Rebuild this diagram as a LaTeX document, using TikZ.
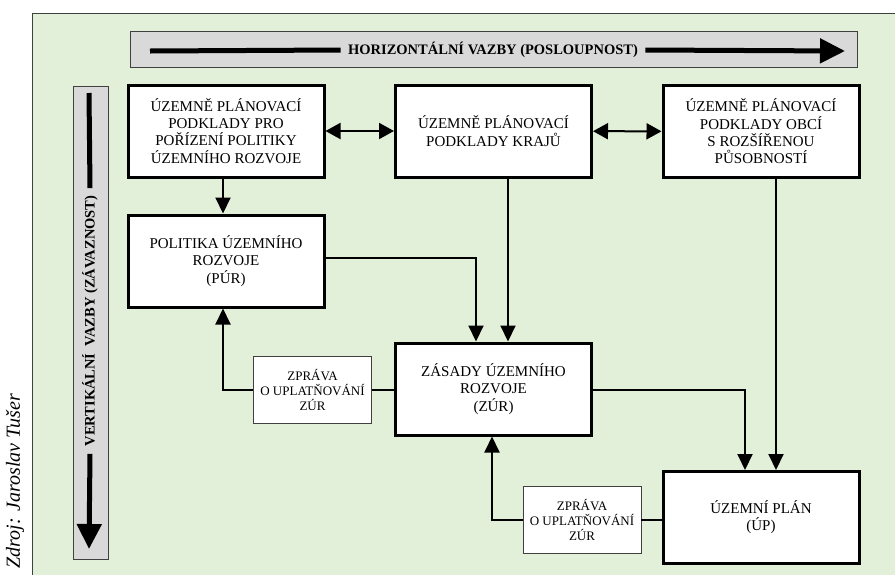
\documentclass[tikz,border=0pt]{standalone}
\usepackage{fontspec}
\setmainfont{Liberation Serif}
\usepackage{tikz}
\usetikzlibrary{arrows.meta,positioning,calc}
\definecolor{framegreen}{RGB}{226,239,217}
\definecolor{bargray}{RGB}{217,217,217}
\definecolor{edgegray}{RGB}{64,64,64}

\begin{document}
\begin{tikzpicture}[
    x=1pt, y=-1pt,
    mainbox/.style={rectangle, draw, line width=3pt, fill=white, align=center, minimum width=196pt, minimum height=92pt, font=\fontsize{15}{17.3}\selectfont},
    reportbox/.style={rectangle, draw=edgegray, line width=0.8pt, fill=white, align=center, minimum width=118pt, minimum height=67pt, font=\fontsize{13}{14.6}\selectfont},
    bar/.style={draw=edgegray, line width=0.8pt, fill=bargray},
    bartext/.style={font=\bfseries\fontsize{14.5}{17}\selectfont},
    bigarrow/.style={line width=5pt, -{Triangle[width=24pt,length=25pt]}},
    arrow/.style={line width=2pt, -{Triangle[width=15pt,length=16pt]}},
    biarrow/.style={line width=2pt, {Triangle[width=16pt,length=15pt]}-{Triangle[width=16pt,length=15pt]}},
    link/.style={line width=2pt}
]
\useasboundingbox (0,0) rectangle (895,574);

% background frame
\draw[fill=framegreen, draw=edgegray, line width=0.8pt] (32,13) rectangle (905,585);
\node[rotate=90, font=\itshape\fontsize{20}{22}\selectfont] (source) at (15,481) {Zdroj: Jaroslav Tušer};

% horizontal relations bar
\draw[bar] (130,31) rectangle (857,67);
\node[bartext] (htext) at (493,50) {HORIZONTÁLNÍ VAZBY (POSLOUPNOST)};
\coordinate (hstart) at (150,51);
\coordinate (hend) at (845,51);
\draw[line width=5pt] (hstart) -- ([xshift=-4pt]htext.west);
\draw[bigarrow] ([xshift=4pt]htext.east) -- (hend);

% vertical relations bar
\draw[bar] (73,86) rectangle (108,559);
\node[bartext, rotate=90] (vtext) at (90,321) {VERTIKÁLNÍ\ \ VAZBY (ZÁVAZNOST)};
\coordinate (vstart) at (89,93);
\coordinate (vend) at (89,549);
\draw[line width=5pt] (vstart) -- ([yshift=4pt]vtext.east);
\draw[bigarrow] ([yshift=-4pt]vtext.west) -- (vend);

% boxes
\node[mainbox] (upppur) at (226,131) {ÚZEMNĚ PLÁNOVACÍ\\PODKLADY PRO\\POŘÍZENÍ POLITIKY\\ÚZEMNÍHO ROZVOJE};
\node[mainbox] (uppkraj) at (493.5,131) {ÚZEMNĚ PLÁNOVACÍ\\PODKLADY KRAJŮ};
\node[mainbox] (uppobec) at (761,131.5) {ÚZEMNĚ PLÁNOVACÍ\\PODKLADY OBCÍ\\S ROZŠÍŘENOU\\PŮSOBNOSTÍ};
\node[mainbox] (pur) at (226,261) {POLITIKA ÚZEMNÍHO\\ROZVOJE\\(PÚR)};
\node[mainbox] (zur) at (493.5,389) {ZÁSADY ÚZEMNÍHO\\ROZVOJE\\(ZÚR)};
\node[mainbox] (up) at (761,517.5) {ÚZEMNÍ PLÁN\\(ÚP)};
\node[reportbox] (repzur) at (312.5,390) {ZPRÁVA\\O UPLATŇOVÁNÍ\\ZÚR};
\node[reportbox] (repup) at (582,520) {ZPRÁVA\\O UPLATŇOVÁNÍ\\ZÚR};

% connectors
\draw[biarrow] (upppur) -- (uppkraj);
\draw[biarrow] (uppkraj) -- (uppobec);
\draw[arrow] ([xshift=-3pt]upppur.south) -- ([xshift=-3pt]pur.north);
\draw[arrow] ([yshift=3pt]pur.east) -| ([xshift=-17.5pt]zur.north);
\draw[arrow] ([xshift=14.5pt]uppkraj.south) -- ([xshift=14.5pt]zur.north);
\draw[arrow] ([xshift=15pt]uppobec.south) -- ([xshift=15pt]up.north);
\draw[arrow] (repzur.east -| zur.east) -| ([xshift=-16pt]up.north);
\draw[link] (zur.west |- repzur.east) -- (repzur.east);
\draw[arrow] (repzur.west) -| ([xshift=-3pt]pur.south);
\draw[link] (up.west |- repup.east) -- (repup.east);
\draw[arrow] (repup.west) -| ([xshift=-1.5pt]zur.south);

\end{tikzpicture}
\end{document}
